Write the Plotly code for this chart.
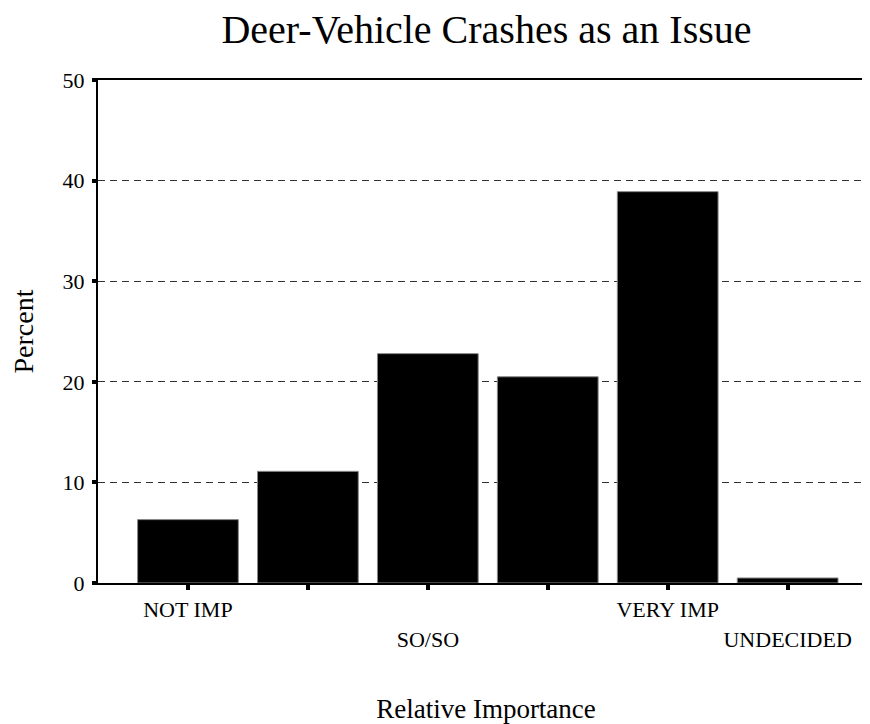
import plotly.graph_objects as go

categories = ["NOT IMP", "2", "SO/SO", "4", "VERY IMP", "UNDECIDED"]
percent = [6.3, 11.1, 22.8, 20.5, 38.9, 0.5]
row1_labels = ["NOT IMP", "", "", "", "VERY IMP", ""]
row2_labels = ["", "", "SO/SO", "", "", "UNDECIDED"]
y_ticks = [0, 10, 20, 30, 40, 50]

idx = list(range(len(categories)))
FONT = "Liberation Serif, Times New Roman, serif"

fig = go.Figure()
fig.add_trace(go.Bar(
    x=idx, y=percent, width=0.84,
    marker=dict(color="black", line=dict(color="#888888", width=1)),
    hoverinfo="skip", showlegend=False,
))
# invisible trace to host second (staggered) label row
fig.add_trace(go.Scatter(x=idx, y=percent, xaxis="x2", mode="none",
                         showlegend=False, hoverinfo="skip"))

fig.update_layout(
    width=870, height=724,
    paper_bgcolor="white", plot_bgcolor="white",
    margin=dict(l=89, r=2, t=72, b=149),
    font=dict(family=FONT, color="black", size=22),
    title=dict(text="Deer-Vehicle Crashes as an Issue", x=0.55, xanchor="center",
               y=0.951, yanchor="bottom", font=dict(size=40, family=FONT)),
    xaxis=dict(
        range=[-0.75, 5.72], tickvals=idx, ticktext=row1_labels,
        showline=True, linecolor="black", linewidth=2, mirror=True,
        ticks="outside", ticklen=5, tickwidth=4, tickcolor="black",
        showgrid=False, zeroline=False, tickangle=0,
        tickfont=dict(size=22), ticklabelstandoff=1,
        title=dict(text="Relative Importance", font=dict(size=27), standoff=78),
    ),
    xaxis2=dict(
        overlaying="x", matches="x", anchor="y", side="bottom",
        tickvals=idx, ticktext=row2_labels, ticks="", showline=False,
        showgrid=False, zeroline=False, tickangle=0,
        tickfont=dict(size=22), ticklabelstandoff=41,
    ),
    yaxis=dict(
        range=[0, 50], tickvals=y_ticks, ticktext=[str(v) for v in y_ticks],
        showline=True, linecolor="black", linewidth=2, mirror=True,
        ticks="outside", ticklen=4, tickwidth=4, tickcolor="black",
        showgrid=True, gridcolor="#333333", gridwidth=1, griddash="7px,5px",
        zeroline=False, tickfont=dict(size=22), ticklabelstandoff=3,
        title=dict(text="Percent", font=dict(size=28), standoff=33),
    ),
    bargap=0.16,
)

fig.write_html("out.html")
